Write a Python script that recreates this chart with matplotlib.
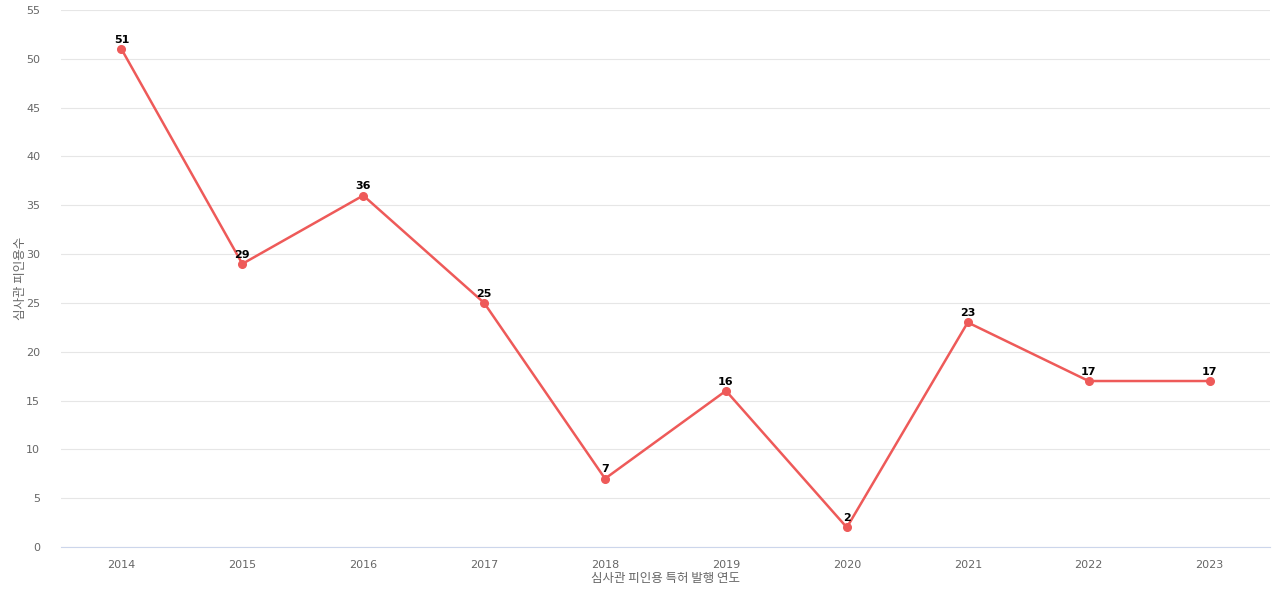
import matplotlib
matplotlib.use("Agg")
import matplotlib.pyplot as plt

years = ["2014","2015","2016","2017","2018","2019","2020","2021","2022","2023"]
counts = [51, 29, 36, 25, 7, 16, 2, 23, 17, 17]
yticks = [0,5,10,15,20,25,30,35,40,45,50,55]

plt.rcParams["font.family"] = "Noto Sans CJK KR"
fig = plt.figure(figsize=(12.8, 6.0), dpi=100)
ax = fig.add_axes([61/1280, 1-547/600, 1209/1280, 537/600])
x = list(range(len(years)))
color = "#ee5a59"
ax.plot(x, counts, color=color, lw=1.8, marker="o", ms=5.5, zorder=3)
for xi, v in zip(x, counts):
    ax.annotate(str(v), (xi, v), xytext=(0, 3), textcoords="offset points",
                ha="center", va="bottom", fontsize=8, fontweight="bold", color="black",
                fontfamily="DejaVu Sans")
ax.set_xlim(-0.5, len(years)-0.5)
ax.set_ylim(0, 55)
ax.set_yticks(yticks)
ax.set_xticks(x)
ax.set_xticklabels(years)
ax.grid(axis="y", color="#e6e6e6", lw=0.8)
ax.set_axisbelow(True)
for s in ["top","right","left"]:
    ax.spines[s].set_visible(False)
ax.spines["bottom"].set_color("#ccd6eb")
ax.tick_params(length=0, labelsize=8, colors="#666666", pad=9)
ax.tick_params(axis="y", pad=15)
for lbl in ax.get_xticklabels()+ax.get_yticklabels():
    lbl.set_fontfamily("DejaVu Sans")
ax.set_xlabel("심사관 피인용 특허 발행 연도", fontsize=9, color="#666666", labelpad=2)
ax.set_ylabel("심사관 피인용수", fontsize=9, color="#666666")
ax.yaxis.set_label_coords(-34/1209, 0.5)
fig.savefig("out.png", dpi=100)
